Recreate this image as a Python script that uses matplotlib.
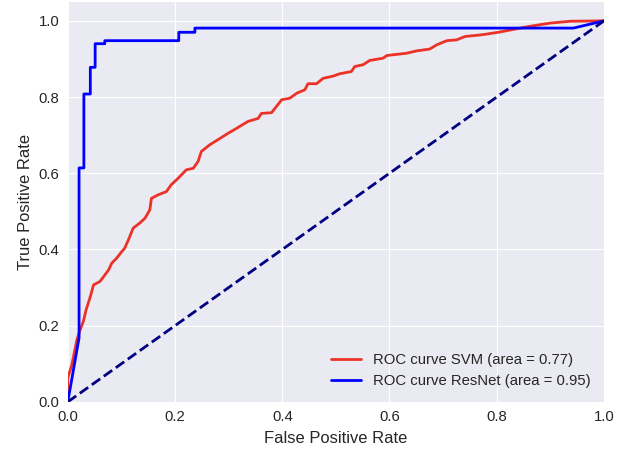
import matplotlib
matplotlib.use("Agg")
import matplotlib.pyplot as plt

# ROC points
svm_fpr = [0.0, 0.0, 0.0075, 0.017, 0.023, 0.029, 0.034, 0.042, 0.048, 0.060, 0.067,
           0.076, 0.082, 0.091, 0.101, 0.106, 0.113, 0.122, 0.134, 0.144, 0.153,
           0.156, 0.168, 0.184, 0.193, 0.206, 0.221, 0.234, 0.243, 0.249, 0.265,
           0.280, 0.299, 0.315, 0.336, 0.355, 0.361, 0.380, 0.389, 0.399, 0.414,
           0.427, 0.442, 0.448, 0.464, 0.476, 0.495, 0.507, 0.529, 0.535, 0.551,
           0.563, 0.588, 0.595, 0.632, 0.650, 0.675, 0.688, 0.707, 0.725, 0.741,
           0.769, 0.775, 0.803, 0.859, 0.899, 0.937, 1.0]
svm_tpr = [0.0, 0.063, 0.097, 0.163, 0.189, 0.211, 0.241, 0.276, 0.307, 0.316, 0.329,
           0.346, 0.364, 0.377, 0.395, 0.403, 0.425, 0.456, 0.469, 0.482, 0.504,
           0.534, 0.543, 0.552, 0.570, 0.587, 0.609, 0.613, 0.631, 0.657, 0.675,
           0.688, 0.705, 0.718, 0.736, 0.744, 0.757, 0.759, 0.775, 0.793, 0.797,
           0.810, 0.819, 0.835, 0.835, 0.849, 0.855, 0.861, 0.867, 0.880, 0.885,
           0.896, 0.902, 0.909, 0.915, 0.921, 0.926, 0.937, 0.948, 0.950, 0.959,
           0.963, 0.964, 0.970, 0.985, 0.994, 0.999, 1.0]

resnet_fpr = [0.0, 0.021, 0.021, 0.030, 0.030, 0.042, 0.042, 0.051, 0.051, 0.069,
              0.069, 0.207, 0.207, 0.237, 0.237, 0.943, 1.0]
resnet_tpr = [0.0, 0.168, 0.614, 0.614, 0.808, 0.808, 0.878, 0.878, 0.940, 0.940,
              0.948, 0.948, 0.970, 0.970, 0.981, 0.981, 1.0]

svm_auc = 0.77
resnet_auc = 0.95

plt.style.use("seaborn-v0_8-darkgrid")
plt.rcParams['font.family'] = ['Liberation Sans', 'DejaVu Sans']

fig = plt.figure(figsize=(6.22, 4.5), dpi=100)
ax = fig.add_axes([0.109, 0.107, 0.862, 0.889])

ax.plot(svm_fpr, svm_tpr, color='#ec3226', lw=2,
        label='ROC curve SVM (area = %0.2f)' % svm_auc)
ax.plot(resnet_fpr, resnet_tpr, color='blue', lw=2,
        label='ROC curve ResNet (area = %0.2f)' % resnet_auc)
ax.plot([0, 1], [0, 1], color='navy', lw=2, linestyle='--')

ax.set_xlim([0.0, 1.0])
ax.set_ylim([0.0, 1.05])
ax.set_xticks([0.0, 0.2, 0.4, 0.6, 0.8, 1.0])
ax.set_yticks([0.0, 0.2, 0.4, 0.6, 0.8, 1.0])
ax.tick_params(labelsize=10.7, colors='#262626', pad=6)
ax.set_xlabel('False Positive Rate', fontsize=11.9, color='#262626', labelpad=5)
ax.set_ylabel('True Positive Rate', fontsize=11.9, color='#262626', labelpad=4)
ax.legend(loc='lower right', fontsize=10.7, frameon=False)

fig.savefig('out.png', dpi=100)
